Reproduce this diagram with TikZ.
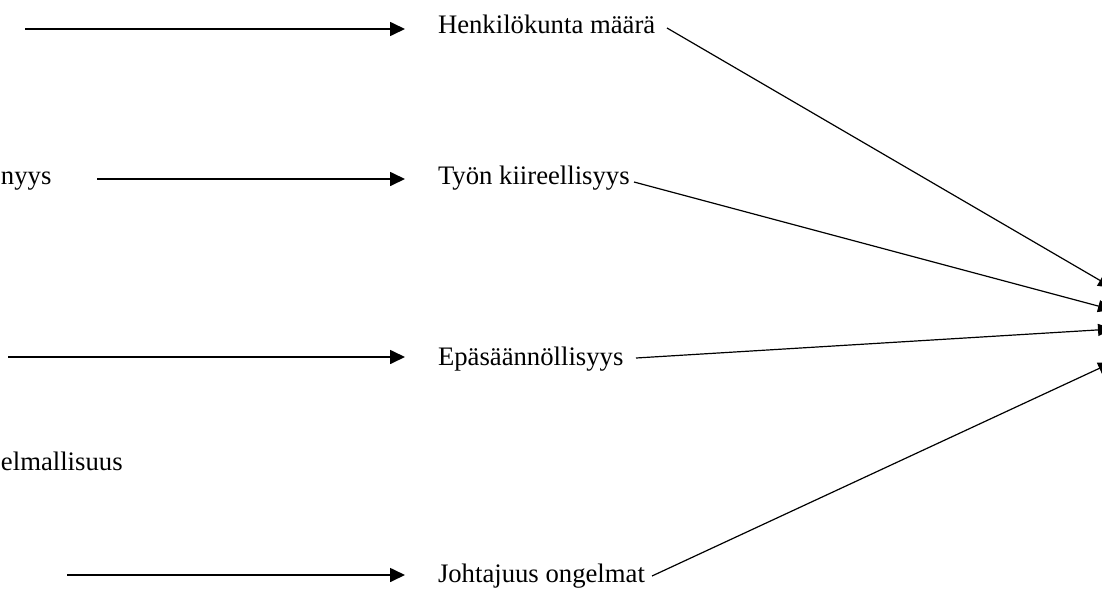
\documentclass[tikz,border=0pt]{standalone}
\usepackage{fontspec}
\setmainfont{Liberation Serif}
\usetikzlibrary{arrows.meta}
\begin{document}
\begin{tikzpicture}[x=1pt,y=-1pt,
  lbl/.style={inner sep=0pt,outer sep=0pt,anchor=base west,font=\fontsize{26.7}{32}\selectfont},
  leftarr/.style={line width=1.7pt,-{Triangle[length=15pt,width=14pt]}},
  rightarr/.style={line width=1.2pt,-{Triangle[length=15pt,width=12pt]}}]
\useasboundingbox (0,0) rectangle (1102,589);
\clip (0,0) rectangle (1102,589);
\fill[white] (0,0) rectangle (1102,589);
% text nodes
\node[lbl] (t1) at (438,33) {Henkilökunta määrä};
\node[lbl] (t2) at (438,184) {Työn kiireellisyys};
\node[lbl] (t3) at (438,365) {Epäsäännöllisyys};
\node[lbl] (t4) at (438,582) {Johtajuus ongelmat};
\node[lbl] (c1) at (1,184) {nyys};
\node[lbl] (c2) at (1,470) {elmallisuus};
% left arrow coordinates
\coordinate (s1) at (25,29);   \coordinate (e1) at (405,29);
\coordinate (s2) at (97,179);  \coordinate (e2) at (405,179);
\coordinate (s3) at (8,357);   \coordinate (e3) at (405,357);
\coordinate (s4) at (67,575);  \coordinate (e4) at (405,575);
\draw[leftarr] (s1) -- (e1);
\draw[leftarr] (s2) -- (e2);
\draw[leftarr] (s3) -- (e3);
\draw[leftarr] (s4) -- (e4);
% right connectors
\coordinate (a1) at (667,28);  \coordinate (z1) at (1113,288);
\coordinate (a2) at (634,182); \coordinate (z2) at (1113,310);
\coordinate (a3) at (636,358); \coordinate (z3) at (1113,329);
\coordinate (a4) at (652,576); \coordinate (z4) at (1113,362);
\draw[rightarr] (a1) -- (z1);
\draw[rightarr] (a2) -- (z2);
\draw[rightarr] (a3) -- (z3);
\draw[rightarr] (a4) -- (z4);
\end{tikzpicture}
\end{document}
